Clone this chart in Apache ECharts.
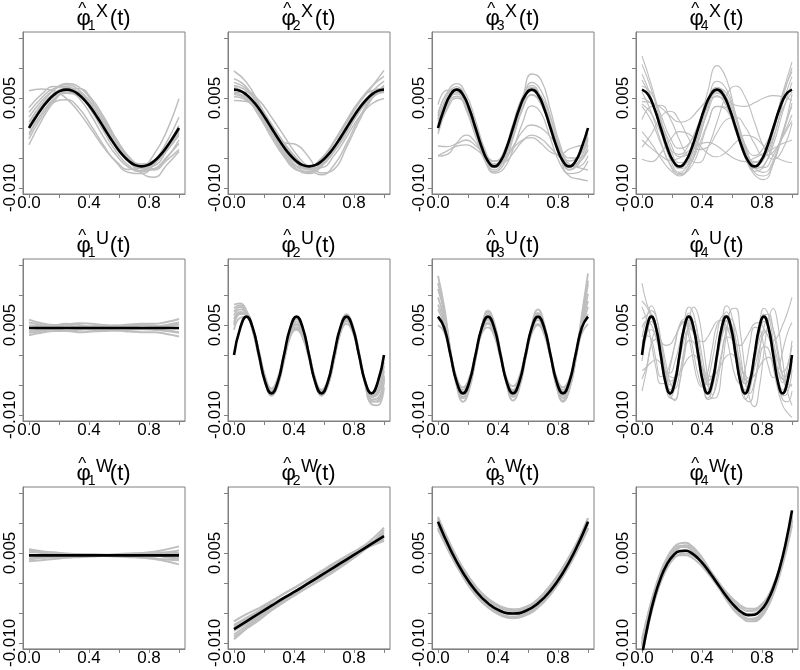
<!DOCTYPE html>
<html>
<head>
<meta charset="utf-8">
<script src="https://cdn.jsdelivr.net/npm/echarts@6/dist/echarts.min.js"></script>
<style>
  html, body { margin: 0; padding: 0; background: #fff; }
  #chart { width: 800px; height: 670px; }
</style>
</head>
<body>
<div id="chart"></div>
<script>
// all curve values are in units of 1e-3 (axis labels divide by 1000)
const T13 = [0, 0.0833, 0.1667, 0.25, 0.3333, 0.4167, 0.5, 0.5833, 0.6667, 0.75, 0.8333, 0.9167, 1];
const T17 = [0, 0.0625, 0.125, 0.1875, 0.25, 0.3125, 0.375, 0.4375, 0.5, 0.5625, 0.625, 0.6875, 0.75, 0.8125, 0.875, 0.9375, 1];
const T25 = [0, 0.0417, 0.0833, 0.125, 0.1667, 0.2083, 0.25, 0.2917, 0.3333, 0.375, 0.4167, 0.4583, 0.5,
  0.5417, 0.5833, 0.625, 0.6667, 0.7083, 0.75, 0.7917, 0.8333, 0.875, 0.9167, 0.9583, 1];
const T33 = [0, 0.0313, 0.0625, 0.0938, 0.125, 0.1563, 0.1875, 0.2188, 0.25, 0.2813, 0.3125, 0.3438, 0.375,
  0.4063, 0.4375, 0.4688, 0.5, 0.5313, 0.5625, 0.5938, 0.625, 0.6563, 0.6875, 0.7188, 0.75, 0.7813, 0.8125,
  0.8438, 0.875, 0.9063, 0.9375, 0.9688, 1];

const yTicks = [-10, -5, 0, 5, 10, 15];
const yTickLabels = [-10, 5];
const xTicks = [0, 0.2, 0.4, 0.6, 0.8, 1];
const xTickLabels = [0, 0.4, 0.8];

// ---- row X ----
const x1Mean = [0, 1.66, 3.2, 4.52, 5.54, 6.18, 6.4, 6.18, 5.54, 4.52, 3.2, 1.66, 0,
  -1.66, -3.2, -4.52, -5.54, -6.18, -6.4, -6.18, -5.54, -4.52, -3.2, -1.66, 0];
const x1Gray = [
  [1.0, 4.0, 6.3, 7.2, 6.3, 3.9, 0.6, -2.8, -5.3, -6.5, -5.8, -3.8, -1.2],
  [-1.2, 2.3, 4.9, 6.0, 5.4, 3.3, 0.3, -2.9, -5.6, -7.1, -6.8, -4.9, -2.6],
  [2.6, 5.0, 6.6, 6.9, 5.6, 2.8, -0.7, -4.0, -6.3, -7.3, -6.1, -3.4, -0.3],
  [-2.8, 1.2, 4.4, 6.3, 6.6, 4.9, 1.8, -1.9, -5.0, -6.8, -7.0, -5.4, -3.6],
  [0.5, 3.6, 5.8, 6.6, 5.9, 3.8, 0.9, -2.4, -5.1, -6.6, -6.3, -3.9, -0.8],
  [6.2, 6.5, 6.2, 4.9, 2.6, -0.3, -3.3, -5.6, -6.9, -6.6, -4.4, -0.6, 4.9],
  [1.8, 4.5, 6.4, 7.4, 6.8, 4.6, 1.3, -2.2, -4.9, -6.0, -5.4, -3.0, 0.4],
  [-1.8, 1.8, 4.6, 5.8, 5.2, 3.4, 0.8, -2.3, -5.2, -7.5, -8.2, -6.2, -3.9],
  [-0.9, 2.4, 4.3, 4.7, 3.3, 0.3, -3.0, -5.8, -7.4, -7.6, -6.1, -3.5, -0.5],
  [0.2, 3.0, 5.3, 6.4, 6.0, 4.2, 1.4, -1.9, -4.8, -6.6, -6.8, -5.0, -2.0],
  [3.4, 5.6, 6.9, 6.8, 5.0, 2.0, -1.6, -4.6, -6.6, -7.2, -5.6, -2.4, 1.8]
];
const x2Mean = [6.4, 6.18, 5.54, 4.52, 3.2, 1.66, 0, -1.66, -3.2, -4.52, -5.54, -6.18, -6.4,
  -6.18, -5.54, -4.52, -3.2, -1.66, 0, 1.66, 3.2, 4.52, 5.54, 6.18, 6.4];
const x2Gray = [
  [7.6, 6.5, 3.9, 0.4, -3.0, -5.6, -6.9, -6.2, -3.8, -0.4, 3.0, 5.9, 7.8],
  [5.2, 4.6, 2.6, -0.6, -3.9, -6.4, -7.3, -6.0, -3.1, 0.4, 3.5, 5.5, 5.9],
  [9.5, 7.6, 4.1, 0.0, -3.6, -5.8, -6.3, -5.0, -2.4, 0.9, 4.1, 6.8, 9.6],
  [4.6, 4.4, 3.0, 0.5, -2.4, -5.0, -6.7, -6.6, -4.6, -1.5, 1.8, 4.0, 4.9],
  [6.9, 5.5, 2.5, -1.1, -4.5, -6.8, -7.6, -6.4, -3.6, -0.1, 3.2, 5.6, 6.8],
  [5.8, 6.0, 4.6, 1.8, -1.3, -4.4, -6.6, -7.8, -6.2, -2.6, 1.6, 4.9, 6.3],
  [8.2, 6.8, 3.5, -0.6, -4.2, -6.4, -6.8, -5.2, -2.2, 1.2, 4.4, 6.9, 8.6],
  [6.0, 5.0, 2.8, -0.2, -3.4, -5.9, -7.0, -6.3, -4.0, -0.9, 2.6, 5.0, 6.1],
  [6.6, 5.2, 2.4, -0.9, -2.4, -2.8, -4.9, -7.5, -6.9, -3.2, 1.1, 4.8, 7.1],
  [7.1, 6.2, 3.8, 0.7, -2.6, -5.2, -6.4, -5.8, -3.7, -0.6, 2.7, 5.3, 6.9],
  [5.6, 4.8, 2.0, -1.6, -4.8, -7.0, -7.4, -5.6, -2.4, 1.2, 4.4, 6.2, 6.6]
];
const x3Mean = [0, 3.2, 5.54, 6.4, 5.54, 3.2, 0, -3.2, -5.54, -6.4, -5.54, -3.2, 0,
  3.2, 5.54, 6.4, 5.54, 3.2, 0, -3.2, -5.54, -6.4, -5.54, -3.2, 0];
const x3Gray = [
  [1.2, 5.4, 6.9, 4.8, 0.1, -4.4, -6.1, -4.1, 0.7, 5.2, 7.1, 5.0, 0.2, -4.7, -6.9, -5.6, -2.0],
  [-1.0, 3.5, 5.9, 4.6, 0.5, -4.0, -6.6, -5.3, -0.8, 4.0, 6.4, 4.8, 0.6, -4.0, -6.2, -4.9, -1.5],
  [2.5, 6.0, 7.4, 5.6, 1.3, -3.6, -6.0, -4.8, -0.6, 4.4, 7.6, 6.2, 1.9, -3.2, -6.0, -6.4, -4.6],
  [0.3, 4.0, 5.3, 3.4, -0.8, -5.0, -7.0, -5.5, -1.0, 3.2, 5.5, 3.9, -0.2, -4.8, -7.6, -7.4, -5.5],
  [3.9, 6.3, 6.2, 3.5, -0.4, -4.0, -5.6, -4.1, 0.0, 4.8, 9.0, 8.0, 3.0, -2.6, -5.5, -4.7, -1.9],
  [-4.6, -3.8, -3.0, -2.8, -3.5, -4.8, -6.0, -5.8, -4.2, -2.2, -1.2, -1.8, -3.3, -4.9, -6.0, -6.6, -7.0],
  [-3.0, -3.1, -2.6, -2.0, -2.9, -4.4, -5.5, -5.1, -3.1, -0.6, 0.5, 0.0, -1.5, -3.4, -5.0, -5.0, -3.8],
  [-4.7, -4.4, -2.5, -1.2, -2.4, -5.0, -6.6, -5.6, -3.4, -2.0, -1.6, -2.6, -4.0, -4.4, -3.5, -3.0, -2.8],
  [1.5, 4.8, 5.7, 3.0, -1.4, -5.5, -7.5, -6.8, -3.6, 0.8, 3.7, 2.5, -1.8, -5.9, -8.0, -8.5, -8.8],
  [-0.4, 3.2, 5.0, 3.9, 0.1, -4.8, -7.3, -6.1, -1.8, 3.4, 6.2, 5.3, 1.6, -3.6, -7.0, -6.0, -2.9],
  [0.6, 4.9, 6.6, 4.8, 0.5, -4.2, -6.3, -4.8, -0.3, 4.3, 6.8, 5.0, 0.8, -4.2, -6.5, -5.0, -0.9],
  [2.0, 5.8, 6.4, 3.8, -0.6, -4.6, -6.4, -5.0, -1.4, 3.0, 5.6, 4.4, 0.6, -3.8, -6.2, -5.8, -3.6]
];
const x4Mean = [6.4, 5.54, 3.2, 0, -3.2, -5.54, -6.4, -5.54, -3.2, 0, 3.2, 5.54, 6.4,
  5.54, 3.2, 0, -3.2, -5.54, -6.4, -5.54, -3.2, 0, 3.2, 5.54, 6.4];
const x4Gray = [
  [12.0, 7.2, 1.6, -3.2, -5.8, -5.0, -1.2, 3.8, 6.2, 4.7, 0.5, -4.0, -6.4, -5.2, -0.8, 5.0, 10.0],
  [8.0, 4.8, 0.0, -4.2, -6.8, -6.0, -2.0, 3.0, 6.6, 5.8, 1.6, -3.6, -7.2, -6.4, -2.0, 4.0, 8.6],
  [5.0, 4.0, 1.0, -2.4, -4.8, -4.2, -0.4, 4.4, 7.8, 6.5, 2.2, -2.8, -5.6, -5.0, -1.6, 3.2, 6.0],
  [-2.0, -3.4, -4.6, -5.4, -5.0, -3.8, -2.8, -2.4, -3.0, -4.2, -5.2, -5.6, -5.0, -4.2, -3.4, -2.6, -2.0],
  [4.4, 4.2, 3.4, 2.0, 1.0, 1.4, 3.0, 4.6, 5.2, 4.6, 3.8, 3.6, 4.2, 5.0, 5.4, 5.2, 4.6],
  [6.0, 2.6, -2.2, -6.2, -8.0, -6.6, -2.4, 2.6, 5.4, 3.6, -0.6, -5.0, -7.8, -8.6, -6.0, -0.6, 3.6],
  [1.4, 3.6, 3.8, 1.6, -2.0, -5.0, -5.8, -3.4, 1.0, 5.4, 7.0, 5.2, 1.0, -3.2, -5.2, -3.6, 0.8],
  [-3.2, -1.0, 1.8, 2.8, 1.2, -1.8, -3.6, -3.2, -0.8, 1.4, 1.8, 0.2, -2.6, -4.6, -4.0, -1.4, 2.2],
  [9.0, 5.0, -0.6, -5.2, -7.4, -5.8, -0.2, 6.0, 10.4, 8.2, 2.2, -3.0, -5.8, -4.4, 0.0, 5.6, 9.4],
  [3.6, 1.2, -2.6, -6.0, -7.6, -7.0, -4.0, 0.6, 3.6, 3.0, -0.2, -4.4, -7.4, -8.0, -5.8, -1.2, 4.2],
  [-5.2, -5.6, -4.2, -2.0, -0.6, -1.0, -2.6, -4.2, -4.8, -4.0, -2.4, -1.2, -1.6, -3.0, -4.6, -5.4, -5.8],
  [7.0, 5.8, 2.2, -1.6, -3.4, -2.6, 0.6, 4.8, 6.8, 5.2, 1.4, -2.8, -4.6, -3.2, 0.2, 5.8, 11.0],
  [10.6, 6.4, 1.0, -4.0, -6.6, -5.4, -1.4, 3.6, 5.8, 4.0, 0.0, -4.4, -6.8, -6.2, -2.8, 2.6, 7.6],
  [-0.6, -2.6, -5.0, -7.0, -7.8, -6.4, -3.2, 0.8, 3.6, 3.4, 0.6, -3.4, -6.2, -6.6, -4.6, -1.6, 1.2],
  [4.0, 2.4, -0.8, -3.6, -4.4, -2.8, 0.6, 4.4, 6.0, 4.4, 0.6, -3.8, -6.6, -7.4, -5.4, -1.0, 5.6]
];

// ---- row U ----
const u1Mean = [4.5, 4.5, 4.5, 4.5, 4.5, 4.5, 4.5, 4.5, 4.5, 4.5, 4.5, 4.5, 4.5];
const u1Gray = [
  [5.9, 5.3, 5.0, 5.1, 5.3, 5.2, 5.0, 4.9, 5.1, 5.2, 5.2, 5.5, 6.0],
  [3.3, 3.7, 4.0, 4.0, 3.8, 3.9, 4.0, 4.1, 3.9, 3.8, 3.8, 3.5, 3.1],
  [4.9, 4.8, 4.7, 4.9, 4.7, 4.5, 4.7, 4.9, 4.8, 4.6, 4.7, 5.0, 5.4],
  [4.0, 4.2, 4.3, 4.1, 4.2, 4.4, 4.3, 4.1, 4.2, 4.3, 4.2, 4.0, 3.7],
  [5.4, 5.0, 4.6, 4.5, 4.6, 4.8, 4.9, 4.7, 4.6, 4.4, 4.6, 4.8, 5.1],
  [3.7, 4.0, 4.4, 4.6, 4.4, 4.2, 4.1, 4.3, 4.5, 4.5, 4.3, 4.1, 3.8],
  [4.5, 4.6, 4.9, 5.2, 5.0, 4.7, 4.6, 4.6, 4.8, 5.0, 4.9, 4.6, 4.4]
];
const u2Mean = [0, 4.53, 6.4, 4.53, 0, -4.53, -6.4, -4.53, 0, 4.53, 6.4, 4.53, 0,
  -4.53, -6.4, -4.53, 0, 4.53, 6.4, 4.53, 0, -4.53, -6.4, -4.53, 0];
const u2Gray = [
  [7.8, 8.3, 7.2, 4.0, -0.6, -4.8, -6.4, -4.4, -0.2, 3.6, 5.2, 3.8, 0.2, -4.2, -6.2, -4.8, -0.6, 4.0, 6.2, 4.6, 0.4, -4.4, -7.0, -6.6, -3.4],
  [5.4, 7.0, 6.6, 4.0, -0.2, -4.6, -6.6, -4.9, -0.6, 3.8, 5.6, 4.2, 0.4, -4.0, -6.5, -5.0, -0.8, 4.2, 6.6, 4.8, 0.3, -4.8, -7.6, -7.8, -4.2],
  [6.6, 7.6, 6.8, 4.2, 0.0, -4.4, -6.3, -4.6, -0.4, 3.4, 4.6, 3.2, -0.2, -4.4, -6.0, -4.4, -0.4, 3.8, 5.6, 4.0, -0.2, -5.0, -8.2, -8.4, -5.4],
  [4.2, 6.2, 6.4, 4.2, 0.2, -4.2, -6.2, -4.7, -0.8, 3.2, 4.2, 2.8, -0.6, -4.6, -6.6, -5.2, -1.0, 3.6, 5.2, 3.8, 0.0, -4.6, -7.0, -6.2, -2.6],
  [7.2, 8.0, 7.0, 4.4, 0.4, -4.0, -6.0, -4.2, 0.0, 4.0, 6.0, 4.4, 0.2, -4.2, -6.4, -4.6, -0.4, 4.4, 6.8, 5.0, 0.6, -4.4, -6.8, -5.8, -1.8],
  [5.0, 6.8, 6.8, 4.6, 0.6, -3.8, -6.0, -4.6, -0.8, 3.4, 5.0, 3.6, 0.0, -4.0, -6.2, -4.8, -0.8, 3.6, 5.8, 4.2, 0.0, -4.4, -7.4, -7.2, -4.0],
  [6.0, 7.2, 6.6, 4.4, 0.2, -4.4, -6.8, -5.2, -1.0, 3.0, 4.4, 3.0, -0.4, -4.8, -6.8, -5.2, -0.6, 3.9, 6.0, 4.4, 0.2, -4.8, -7.8, -7.6, -3.6],
  [8.4, 8.6, 7.4, 4.6, 0.6, -3.6, -5.6, -3.8, 0.2, 3.8, 5.2, 3.6, 0.0, -4.0, -5.8, -4.2, 0.0, 4.4, 6.4, 4.6, 0.2, -4.4, -6.4, -5.0, -1.2]
];
const u3Mean = [6.4, 4.53, 0, -4.53, -6.4, -4.53, 0, 4.53, 6.4, 4.53, 0, -4.53, -6.4,
  -4.53, 0, 4.53, 6.4, 4.53, 0, -4.53, -6.4, -4.53, 0, 4.53, 6.4];
const u3Gray = [
  [13.2, 8.0, 0.8, -4.4, -6.6, -5.0, -0.6, 4.2, 6.0, 4.2, 0.0, -4.4, -6.4, -4.6, -0.2, 4.4, 6.4, 4.2, -0.2, -4.6, -6.8, -5.6, -0.8, 6.6, 13.6],
  [9.6, 6.0, 0.0, -4.8, -7.0, -5.2, -0.4, 4.6, 6.8, 4.8, 0.2, -4.8, -7.0, -5.0, -0.2, 4.8, 7.0, 4.8, 0.0, -5.0, -7.2, -5.4, -0.6, 5.2, 10.2],
  [7.6, 5.0, -0.2, -4.6, -6.4, -4.6, -0.2, 4.2, 5.8, 4.0, -0.2, -4.4, -6.0, -4.4, -0.4, 4.0, 5.8, 4.0, -0.2, -4.6, -6.4, -4.8, -0.6, 4.4, 8.0],
  [5.0, 3.8, 0.0, -3.8, -5.4, -3.8, 0.2, 4.0, 5.4, 3.6, -0.4, -4.0, -5.2, -3.6, 0.2, 3.8, 5.2, 3.6, -0.2, -3.8, -5.4, -4.0, -0.4, 3.6, 5.2],
  [11.0, 7.0, 0.6, -5.2, -7.8, -5.8, -0.8, 4.6, 7.2, 5.0, 0.2, -5.0, -7.6, -5.6, -0.6, 5.0, 7.6, 5.2, 0.0, -5.2, -7.8, -5.8, -0.4, 6.0, 11.8],
  [8.4, 5.6, 0.4, -4.0, -5.8, -4.2, 0.0, 3.6, 4.6, 3.2, -0.6, -4.4, -6.2, -4.6, -0.4, 3.6, 5.0, 3.4, -0.4, -4.2, -5.8, -4.4, 0.0, 5.0, 9.0],
  [6.2, 4.4, 0.2, -4.2, -6.2, -4.4, 0.0, 4.8, 7.4, 5.4, 0.6, -4.0, -5.8, -4.0, 0.2, 4.6, 6.8, 4.8, 0.4, -4.2, -6.2, -4.2, 0.2, 4.8, 6.8],
  [12.0, 7.4, 0.4, -5.0, -7.2, -5.4, -0.6, 3.8, 5.2, 3.6, -0.2, -4.8, -6.8, -5.0, -0.6, 4.2, 6.2, 4.4, -0.4, -5.4, -7.6, -5.8, -1.0, 5.6, 12.4]
];
const u4Mean = [0, 4.53, 6.4, 4.53, 0, -4.53, -6.4, -4.53, 0, 4.53, 6.4, 4.53, 0, -4.53, -6.4, -4.53, 0,
  4.53, 6.4, 4.53, 0, -4.53, -6.4, -4.53, 0, 4.53, 6.4, 4.53, 0, -4.53, -6.4, -4.53, 0];
const u4Gray = [
  [12.0, 8.6, 6.8, 4.0, -0.4, -4.6, -6.2, -4.2, 0.2, 4.6, 6.6, 4.8, 0.4, -4.2, -6.2, -4.6, -0.2, 4.4, 6.6, 4.6, 0.2, -4.4, -6.6, -4.8, -0.2, 4.4, 6.8, 5.0, 0.6, -4.0, -6.8, -6.4, -2.4],
  [2.0, 3.8, 4.2, 3.0, 0.2, -2.8, -4.4, -3.6, -0.8, 2.6, 4.4, 3.6, 0.6, -2.6, -4.2, -3.4, -0.6, 2.8, 4.6, 3.8, 0.8, -2.8, -4.8, -4.0, -1.0, 2.4, 4.0, 3.0, 0.2, -2.6, -4.0, -3.2, -1.0],
  [-2.6, -2.0, -1.2, -0.8, -1.4, -2.6, -3.6, -3.8, -3.0, -1.6, -0.4, 0.0, -0.8, -2.2, -3.4, -3.6, -2.8, -1.4, -0.2, 0.2, -0.6, -2.0, -3.4, -4.0, -3.4, -2.0, -0.8, -0.4, -1.2, -2.6, -4.0, -4.8, -5.2],
  [6.0, 6.6, 7.4, 6.4, 2.6, -2.4, -6.4, -7.6, -4.8, 0.4, 5.4, 8.0, 6.6, 2.0, -3.6, -7.2, -7.0, -2.6, 3.4, 7.6, 7.8, 3.6, -2.6, -7.4, -8.6, -5.6, 0.4, 5.8, 7.8, 5.0, -0.8, -6.0, -8.4],
  [0.4, 3.2, 2.6, -0.8, -3.6, -3.2, -1.4, 1.6, 4.8, 5.6, 3.0, -1.2, -4.6, -5.4, -3.0, 1.2, 5.0, 5.8, 3.2, -0.6, -3.8, -4.8, -2.4, 1.8, 4.6, 4.4, 1.4, -2.0, -3.8, -2.6, 0.6, 3.6, 5.4],
  [9.0, 8.0, 6.4, 4.2, 2.4, 1.6, 1.8, 3.0, 4.6, 5.4, 5.0, 3.8, 2.6, 2.2, 3.0, 4.4, 5.6, 5.8, 4.8, 3.0, 1.8, 1.6, 2.6, 4.0, 5.2, 5.4, 4.4, 3.0, 2.4, 3.2, 5.0, 7.0, 9.6],
  [-4.0, -1.8, 1.8, 2.6, 0.2, -3.8, -7.0, -7.4, -4.6, -0.4, 2.4, 2.2, -1.0, -4.8, -7.4, -7.0, -3.6, 0.4, 3.0, 2.8, -0.2, -4.2, -7.2, -7.8, -5.0, -1.2, 1.4, 1.0, -2.2, -5.8, -8.4, -9.6, -10.4],
  [1.4, 5.2, 6.8, 5.0, 0.8, -3.8, -5.8, -4.0, 0.4, 5.0, 7.0, 5.2, 0.8, -3.8, -5.8, -4.2, 0.4, 5.0, 7.2, 5.4, 1.0, -3.6, -5.8, -4.0, 0.4, 4.8, 6.8, 4.8, 0.6, -3.8, -5.8, -4.6, -1.6],
  [-1.0, 3.4, 5.6, 4.0, -0.6, -5.2, -7.2, -5.4, -1.0, 3.8, 5.8, 4.2, -0.4, -5.0, -7.2, -5.6, -1.2, 3.6, 5.8, 4.0, -0.6, -5.2, -7.4, -5.8, -1.2, 3.4, 5.6, 4.2, -0.2, -4.8, -7.4, -7.8, -6.0],
  [4.6, 5.6, 5.0, 2.8, -0.2, -2.6, -3.0, -1.2, 1.8, 4.6, 5.4, 3.8, 0.8, -2.6, -4.4, -3.4, -0.4, 3.2, 5.6, 5.2, 2.4, -1.4, -4.0, -4.4, -2.2, 1.0, 3.6, 4.0, 2.0, -1.0, -2.8, -1.8, 1.6],
  [8.0, 5.8, 2.0, -2.2, -4.8, -4.6, -2.0, 1.8, 5.0, 6.0, 4.2, 0.4, -3.4, -5.2, -4.2, -0.8, 3.4, 6.4, 6.6, 3.6, -0.8, -4.6, -6.0, -4.2, -0.4, 3.8, 6.6, 6.8, 4.0, 0.0, -3.4, -3.6, -1.0],
  [-6.0, -2.4, 2.0, 4.0, 2.6, -1.0, -4.6, -5.6, -3.2, 1.0, 4.6, 5.6, 3.2, -1.0, -5.0, -6.6, -4.6, -0.2, 4.2, 6.0, 4.2, 0.0, -4.6, -6.4, -4.4, 0.2, 4.6, 6.2, 4.4, 0.8, -3.4, -5.4, -4.8],
  [3.0, 6.2, 8.2, 6.6, 2.0, -2.8, -5.0, -3.6, 0.6, 5.4, 8.0, 6.8, 2.4, -2.6, -5.0, -4.0, 0.2, 5.2, 8.2, 7.0, 2.6, -2.4, -4.8, -3.6, 0.4, 5.0, 7.8, 6.6, 2.2, -2.6, -4.6, -2.4, 2.4]
];

// ---- row W ----
const w1Mean = [4.6, 4.6, 4.6, 4.6, 4.6, 4.6, 4.6, 4.6, 4.6, 4.6, 4.6, 4.6, 4.6];
const w1Gray = [
  [5.6, 5.3, 5.1, 4.9, 4.8, 4.7, 4.7, 4.8, 4.9, 5.0, 5.2, 5.6, 6.1],
  [3.6, 3.8, 4.0, 4.2, 4.3, 4.4, 4.5, 4.4, 4.3, 4.2, 4.0, 3.6, 3.1],
  [5.1, 5.1, 5.0, 4.8, 4.7, 4.7, 4.6, 4.7, 4.8, 4.9, 5.0, 5.1, 5.4],
  [4.1, 4.2, 4.3, 4.4, 4.4, 4.5, 4.6, 4.5, 4.4, 4.3, 4.1, 3.9, 3.8],
  [5.4, 5.0, 4.7, 4.6, 4.6, 4.6, 4.6, 4.7, 4.6, 4.6, 4.6, 4.4, 4.2],
  [3.9, 4.2, 4.5, 4.7, 4.8, 4.8, 4.7, 4.5, 4.5, 4.6, 4.8, 5.0, 5.0],
  [4.6, 4.5, 4.4, 4.3, 4.4, 4.5, 4.6, 4.6, 4.7, 4.8, 4.6, 4.3, 3.9]
];
const w2Mean = [-7.7, -6.4, -5.1, -3.8, -2.5, -1.3, 0, 1.3, 2.6, 3.9, 5.2, 6.5, 7.8];
const w2Gray = [
  [-6.4, -5.2, -4.2, -3.0, -1.8, -0.6, 0.6, 1.8, 3.0, 4.2, 5.3, 6.4, 7.2],
  [-9.0, -7.6, -6.2, -4.6, -3.2, -1.9, -0.6, 0.8, 2.2, 3.5, 4.9, 6.6, 8.8],
  [-7.0, -5.8, -4.6, -3.2, -1.8, -0.6, 0.7, 2.0, 3.3, 4.5, 5.7, 6.8, 7.6],
  [-8.6, -7.2, -5.8, -4.4, -3.1, -1.8, -0.6, 0.6, 1.9, 3.3, 4.8, 6.5, 8.4],
  [-7.9, -6.4, -5.1, -3.9, -2.7, -1.4, -0.1, 1.2, 2.5, 3.9, 5.3, 6.4, 7.2],
  [-7.2, -6.0, -4.8, -3.6, -2.4, -1.2, 0.2, 1.5, 2.8, 4.0, 5.1, 6.2, 7.0],
  [-9.4, -7.6, -5.8, -4.2, -2.8, -1.4, 0.0, 1.3, 2.6, 3.9, 5.3, 6.7, 8.0],
  [-8.0, -6.8, -5.5, -4.1, -2.7, -1.2, 0.1, 1.4, 2.8, 4.2, 5.6, 7.2, 9.2]
];
const w3Mean = [10.2, 5.53, 1.70, -1.28, -3.4, -4.68, -5.1, -4.68, -3.4, -1.28, 1.70, 5.53, 10.2];
const w3Gray = [
  [11.0, 6.4, 2.5, -0.5, -2.7, -4.0, -4.5, -4.2, -2.9, -0.7, 2.3, 6.2, 10.8],
  [9.2, 4.7, 1.0, -2.0, -4.1, -5.4, -5.9, -5.4, -4.1, -1.9, 1.1, 4.8, 9.2],
  [9.8, 5.8, 2.3, -0.6, -2.6, -3.9, -4.4, -4.0, -2.7, -0.4, 2.6, 6.3, 10.0],
  [10.6, 5.6, 1.4, -1.8, -3.9, -5.2, -5.6, -5.0, -3.4, -1.2, 1.8, 5.4, 10.8],
  [8.9, 4.9, 1.3, -1.5, -3.7, -5.2, -5.7, -5.3, -4.0, -1.9, 1.2, 4.9, 9.0],
  [10.4, 5.8, 2.2, -0.8, -2.9, -4.2, -4.7, -4.3, -3.0, -1.0, 1.9, 5.8, 10.2],
  [9.6, 5.2, 1.3, -1.8, -3.9, -4.9, -5.1, -4.5, -2.8, -0.4, 2.6, 6.0, 9.7],
  [10.8, 6.0, 2.0, -1.3, -3.4, -4.6, -5.2, -5.0, -3.8, -1.6, 1.3, 5.2, 10.4]
];
const w4Mean = [-12.1, -6.66, -2.38, 0.85, 3.14, 4.58, 5.29, 5.37, 4.93, 4.06, 2.89, 1.50, 0,
  -1.50, -2.89, -4.06, -4.93, -5.37, -5.29, -4.58, -3.14, -0.85, 2.38, 6.66, 12.1];
const w4Gray = [
  [-10.0, -5.2, -1.2, 1.9, 4.2, 5.8, 6.6, 6.7, 6.1, 5.0, 3.6, 2.0, 0.5, -1.0, -2.4, -3.5, -4.3, -4.7, -4.6, -3.9, -2.6, -0.4, 2.5, 6.2, 10.6],
  [-11.4, -6.8, -2.9, 0.2, 2.5, 4.0, 4.6, 4.6, 4.2, 3.4, 2.3, 1.0, -0.4, -1.8, -3.2, -4.5, -5.5, -6.0, -6.0, -5.4, -4.0, -1.7, 1.6, 5.8, 11.0],
  [-9.4, -5.0, -1.4, 1.6, 3.8, 5.3, 6.0, 6.0, 5.4, 4.4, 3.1, 1.6, 0.1, -1.5, -3.0, -4.4, -5.4, -6.0, -6.2, -5.6, -4.2, -1.9, 1.2, 5.0, 9.6],
  [-12.0, -7.2, -3.0, 0.2, 2.5, 4.0, 4.8, 4.9, 4.6, 3.9, 2.9, 1.7, 0.4, -0.9, -2.1, -3.1, -3.9, -4.3, -4.3, -3.7, -2.5, -0.4, 2.4, 6.0, 10.2],
  [-10.6, -5.7, -1.6, 1.5, 3.8, 5.4, 6.2, 6.2, 5.6, 4.5, 3.1, 1.5, -0.1, -1.7, -3.2, -4.5, -5.5, -6.0, -5.9, -5.2, -3.8, -1.5, 1.8, 6.0, 11.2],
  [-11.6, -6.8, -2.6, 0.6, 3.0, 4.6, 5.4, 5.5, 5.1, 4.2, 3.0, 1.6, 0.2, -1.3, -2.7, -3.9, -4.8, -5.2, -5.1, -4.4, -3.0, -0.7, 2.5, 6.6, 11.8],
  [-10.2, -5.6, -1.8, 1.1, 3.3, 4.9, 5.9, 6.3, 6.0, 5.0, 3.5, 1.7, -0.2, -2.0, -3.6, -4.9, -5.8, -6.4, -6.4, -5.8, -4.2, -1.6, 1.8, 5.8, 10.4]
];

// panel order: row by row (X, U, W), columns 1..4
const panels = [
  { sub: '1', sup: 'X', tMean: T25, mean: x1Mean, tGray: T13, gray: x1Gray, gw: 1.5 },
  { sub: '2', sup: 'X', tMean: T25, mean: x2Mean, tGray: T13, gray: x2Gray, gw: 1.5 },
  { sub: '3', sup: 'X', tMean: T25, mean: x3Mean, tGray: T17, gray: x3Gray, gw: 1.3 },
  { sub: '4', sup: 'X', tMean: T25, mean: x4Mean, tGray: T17, gray: x4Gray, gw: 1.1 },
  { sub: '1', sup: 'U', tMean: T13, mean: u1Mean, tGray: T13, gray: u1Gray, gw: 2 },
  { sub: '2', sup: 'U', tMean: T25, mean: u2Mean, tGray: T25, gray: u2Gray, gw: 1.8 },
  { sub: '3', sup: 'U', tMean: T25, mean: u3Mean, tGray: T25, gray: u3Gray, gw: 1.8 },
  { sub: '4', sup: 'U', tMean: T33, mean: u4Mean, tGray: T33, gray: u4Gray, gw: 1.1 },
  { sub: '1', sup: 'W', tMean: T13, mean: w1Mean, tGray: T13, gray: w1Gray, gw: 2 },
  { sub: '2', sup: 'W', tMean: T13, mean: w2Mean, tGray: T13, gray: w2Gray, gw: 2 },
  { sub: '3', sup: 'W', tMean: T13, mean: w3Mean, tGray: T13, gray: w3Gray, gw: 2 },
  { sub: '4', sup: 'W', tMean: T25, mean: w4Mean, tGray: T25, gray: w4Gray, gw: 2 }
];

const lefts = [23, 228, 432, 636];
const tops = [32, 259, 487];
const boxW = 162, boxH = 162;
const frame = '#808080';
const font = '"Liberation Sans", Arial, sans-serif';

const grids = [], xAxes = [], yAxes = [], series = [], graphics = [];

panels.forEach((p, i) => {
  const row = Math.floor(i / 4), col = i % 4;
  const left = lefts[col], top = tops[row];
  grids.push({
    left: left, top: top, width: boxW, height: boxH,
    show: true, borderColor: frame, borderWidth: 1, backgroundColor: '#fff'
  });
  xAxes.push({
    type: 'value', gridIndex: i, min: -0.04, max: 1.04,
    axisLine: { show: true, onZero: false, lineStyle: { color: frame, width: 1 } },
    axisTick: { show: true, customValues: xTicks, length: 4, lineStyle: { color: frame } },
    axisLabel: {
      customValues: xTickLabels, formatter: v => v.toFixed(1),
      fontFamily: font, fontSize: 17, color: '#000', margin: 1
    },
    splitLine: { show: false }
  });
  yAxes.push({
    type: 'value', gridIndex: i, min: -11, max: 16,
    axisLine: { show: true, onZero: false, lineStyle: { color: frame, width: 1 } },
    axisTick: { show: true, customValues: yTicks, length: 4, lineStyle: { color: frame } },
    axisLabel: {
      customValues: yTickLabels, formatter: v => (v / 1000).toFixed(3), rotate: 90,
      fontFamily: font, fontSize: 17, color: '#000', margin: 4
    },
    splitLine: { show: false }
  });
  p.gray.forEach(g => {
    series.push({
      type: 'line', xAxisIndex: i, yAxisIndex: i, silent: true,
      data: p.tGray.map((t, k) => [t, g[k]]),
      showSymbol: false, smooth: 0.5, clip: true,
      lineStyle: { color: '#bebebe', width: p.gw }
    });
  });
  series.push({
    type: 'line', xAxisIndex: i, yAxisIndex: i, silent: true, z: 3,
    data: p.tMean.map((t, k) => [t, p.mean[k]]),
    showSymbol: false, smooth: 0.5, clip: true,
    lineStyle: { color: '#000', width: 2.6 }
  });

  // title: hat(phi)[k]^S (t)
  const cx = left + boxW / 2;
  const piece = (text, x, y, size, align) => ({
    type: 'text', silent: true,
    style: {
      text: text, x: x, y: y, fill: '#000', font: size + 'px ' + font,
      textAlign: align || 'left', align: align || 'left',
      textVerticalAlign: 'middle', verticalAlign: 'middle'
    }
  });
  graphics.push(piece('^', cx - 21.8, top - 22.6, 17, 'center'));
  graphics.push(piece('\u03c6', cx - 27.6, top - 13, 22));
  graphics.push(piece(p.sub, cx - 16.3, top - 5.5, 14));
  graphics.push(piece(p.sup, cx - 8, top - 19.5, 18));
  graphics.push(piece('(t)', cx + 5.8, top - 13, 22));
});

const chart = echarts.init(document.getElementById('chart'), null, { renderer: 'canvas' });
chart.setOption({
  backgroundColor: '#fff',
  animation: false,
  grid: grids,
  xAxis: xAxes,
  yAxis: yAxes,
  series: series,
  graphic: { elements: graphics }
});
</script>
</body>
</html>
